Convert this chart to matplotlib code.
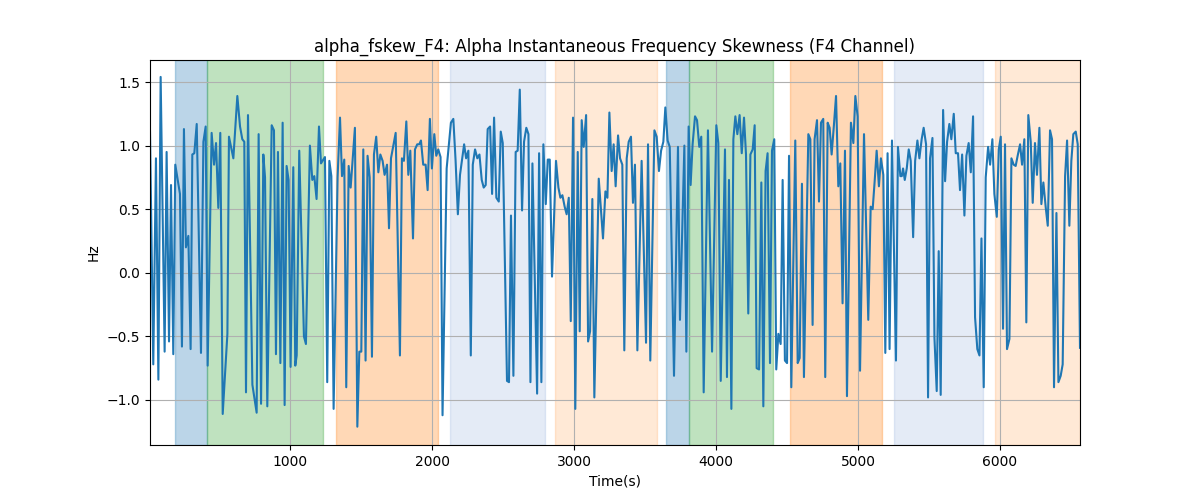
import matplotlib
matplotlib.use("Agg")
import matplotlib.pyplot as plt

# --- veri ---
zaman = [14, 37, 56, 73, 89, 117, 131, 148, 162, 178, 192, 225, 239, 253, 267, 284, 300, 312, 326, 343,
         373, 390, 406, 420, 448, 465, 479, 495, 509, 526, 559, 570, 601, 629, 648, 664, 678, 690, 704, 735,
         765, 779, 796, 812, 824, 840, 871, 887, 901, 915, 932, 948, 962, 976, 990, 1004, 1023, 1037, 1047, 1065,
         1098, 1112, 1140, 1157, 1171, 1187, 1204, 1218, 1246, 1262, 1277, 1291, 1307, 1335, 1352, 1366, 1382, 1396, 1413, 1427,
         1457, 1474, 1488, 1502, 1516, 1532, 1546, 1561, 1577, 1591, 1607, 1622, 1636, 1652, 1666, 1683, 1697, 1711, 1744, 1774,
         1788, 1802, 1819, 1833, 1847, 1866, 1880, 1896, 1910, 1922, 1938, 1955, 1969, 1985, 1999, 2016, 2030, 2044, 2060, 2074,
         2103, 2133, 2150, 2166, 2182, 2197, 2226, 2240, 2256, 2273, 2287, 2303, 2319, 2334, 2350, 2364, 2378, 2392, 2409, 2423,
         2437, 2453, 2470, 2484, 2498, 2528, 2542, 2556, 2573, 2589, 2603, 2618, 2634, 2648, 2664, 2679, 2693, 2707, 2740, 2754,
         2770, 2784, 2801, 2815, 2829, 2845, 2873, 2890, 2904, 2918, 2934, 2948, 2963, 2977, 2993, 3009, 3026, 3040, 3054, 3068,
         3085, 3099, 3113, 3129, 3143, 3174, 3204, 3221, 3235, 3249, 3265, 3279, 3293, 3310, 3324, 3340, 3354, 3371, 3385, 3401,
         3415, 3429, 3446, 3476, 3507, 3521, 3537, 3566, 3582, 3598, 3613, 3629, 3643, 3659, 3674, 3704, 3732, 3746, 3777, 3791,
         3807, 3821, 3835, 3852, 3866, 3882, 3896, 3913, 3943, 3972, 4002, 4016, 4033, 4063, 4077, 4091, 4108, 4122, 4136, 4150,
         4166, 4181, 4197, 4211, 4227, 4242, 4258, 4272, 4286, 4303, 4319, 4333, 4349, 4363, 4380, 4394, 4410, 4424, 4439, 4455,
         4469, 4485, 4500, 4514, 4530, 4558, 4575, 4589, 4605, 4619, 4650, 4664, 4680, 4694, 4711, 4725, 4739, 4755, 4769, 4786,
         4800, 4814, 4830, 4845, 4861, 4875, 4891, 4908, 4922, 4950, 4967, 4981, 4997, 5014, 5042, 5072, 5089, 5103, 5117, 5131,
         5147, 5161, 5178, 5192, 5208, 5222, 5239, 5267, 5281, 5298, 5308, 5317, 5329, 5343, 5357, 5371, 5388, 5402, 5418, 5432,
         5448, 5462, 5479, 5493, 5507, 5524, 5538, 5554, 5568, 5582, 5599, 5613, 5627, 5643, 5657, 5674, 5688, 5704, 5718, 5733,
         5749, 5763, 5779, 5794, 5810, 5824, 5840, 5855, 5869, 5885, 5899, 5916, 5930, 5946, 5960, 5977, 5991, 6005, 6021, 6035,
         6049, 6066, 6080, 6096, 6110, 6124, 6141, 6155, 6171, 6185, 6199, 6216, 6230, 6246, 6260, 6277, 6291, 6305, 6322, 6336,
         6352, 6366, 6380, 6397, 6411, 6427, 6441, 6458, 6472, 6488, 6502, 6516, 6533, 6547, 6563]

fskew = [1.11, -0.72, 0.90, -0.84, 1.54, -0.62, 0.95, -0.54, 0.69, -0.64, 0.85, 0.62, -0.58, 1.13, 0.20, 0.29, -0.60, 0.93, 0.94, 1.17,
         -0.63, 1.03, 1.15, -0.73, 1.10, 0.85, 1.02, 0.51, 1.10, -1.11, -0.48, 1.07, 0.90, 1.39, 1.15, 1.05, 1.03, -0.94, 1.24, -0.88,
         -1.10, 1.09, -1.03, 0.93, 0.75, -1.05, 1.16, 1.12, -0.64, 0.95, -0.71, 1.18, -1.04, 0.84, 0.73, -0.74, 0.83, -0.73, -0.65, 0.96,
         -0.50, -0.56, 1.00, 0.73, 0.76, 0.58, 1.15, 0.86, 0.91, -0.86, 0.88, 0.76, -1.07, 0.75, 1.22, 0.76, 0.89, -0.90, 0.84, 0.67,
         1.14, -1.21, -0.62, -0.62, 0.97, -0.69, 0.92, 0.75, -0.66, 0.93, 1.07, 0.79, 0.93, 0.88, 0.77, 0.85, 0.35, 0.90, 1.10, -0.65,
         0.90, 0.88, 1.19, 0.77, 0.96, 0.27, 0.97, 1.01, 1.01, 1.04, 0.85, 0.85, 0.65, 1.21, 0.82, 1.09, 0.92, 0.97, 0.91, -1.12,
         0.82, 1.18, 1.21, 0.88, 0.46, 0.77, 1.01, 0.90, 0.96, -0.65, 0.85, 0.97, 0.90, 0.93, 0.73, 0.67, 0.69, 1.13, 1.15, 0.62,
         1.22, 0.59, 0.56, 1.11, 1.02, -0.85, -0.86, 0.45, -0.81, 0.95, 0.96, 1.44, 0.49, 1.03, 1.14, 1.09, -0.86, 0.86, -0.95, 0.94,
         -0.86, 1.01, 0.54, 0.89, 0.89, -0.03, 0.88, 0.67, 0.59, 0.61, 0.52, 0.46, 0.59, -0.38, 1.22, -1.07, 0.95, -0.46, 1.20, 0.99,
         1.24, -0.54, -0.46, 0.58, -0.98, 0.74, 0.27, 0.64, 0.59, 1.26, 0.80, 1.01, 0.68, 1.08, 0.90, 0.85, -0.61, 0.90, 1.03, 1.07,
         0.55, 0.85, -0.61, 0.88, -0.55, 1.01, -0.69, 1.12, 1.07, 0.80, 0.96, 1.03, 1.30, 1.04, 0.99, -0.81, 0.99, -0.37, 1.00, -0.62,
         1.15, 0.69, 1.01, 1.23, 1.20, 0.99, 1.07, -0.94, 1.12, -0.62, 1.16, 1.02, -0.85, 0.97, -0.82, 0.73, -1.07, 1.05, 1.23, 1.09,
         1.24, 0.94, 1.22, 0.93, -0.32, 0.93, 0.97, 1.16, -0.75, -0.76, 0.71, -1.05, 0.80, 0.94, -0.71, 0.96, 1.05, -0.76, -0.48, -0.56,
         0.73, -0.69, -0.71, 0.92, -0.90, 1.04, -0.71, -0.67, 0.70, -0.82, 1.09, 1.05, -0.41, 1.05, 1.20, 0.56, 1.18, 1.21, -0.82, 1.18,
         1.14, 0.93, 1.16, 1.39, 0.68, 0.86, -0.24, 0.96, -0.97, 1.18, 1.02, 1.39, 1.23, -0.77, 1.09, -0.37, 0.52, 0.50, 0.72, 0.96,
         0.68, 0.90, 0.77, -0.63, 0.94, -0.60, 1.04, -0.69, 0.99, 0.76, 0.76, 0.82, 0.73, 0.82, 0.97, 0.88, 0.28, 0.88, 1.04, 0.90,
         1.05, 1.14, 1.01, -0.98, 0.90, 1.06, -0.51, -0.93, 0.17, -0.96, 1.28, 0.72, 1.03, 1.17, 1.05, 1.25, 0.94, 0.94, 0.65, 0.93,
         0.45, 0.92, 1.02, 0.79, 1.23, -0.35, -0.60, -0.65, 0.27, -0.90, 0.75, 0.99, 0.85, 1.05, 0.62, 0.44, 0.97, 1.07, -0.44, 1.01,
         -0.60, -0.52, 0.90, 0.85, 0.84, 0.92, 1.01, 0.85, 1.05, -0.39, 1.24, 1.03, 0.55, 1.02, 0.77, 1.14, 0.54, 0.71, 0.51, 0.37,
         1.12, 1.05, -0.90, 0.47, -0.86, -0.81, -0.72, 0.76, 1.04, 0.37, 0.88, 1.09, 1.11, 1.01, -0.59]

# bolgeler: baslangic, bitis, renk, alpha
bolge_bas = [190, 415, 1324, 2127, 2866, 3648, 3810, 4521, 5254, 5965]
bolge_bit = [415, 1232, 2042, 2796, 3585, 3810, 4401, 5169, 5880, 6563]
bolge_renk = ["tab:blue", "tab:green", "tab:orange", "#789bd2", "tab:orange",
              "tab:blue", "tab:green", "tab:orange", "#789bd2", "tab:orange"]
bolge_alpha = [0.3, 0.3, 0.3, 0.2, 0.17, 0.3, 0.3, 0.3, 0.2, 0.17]

fig, ax = plt.subplots(figsize=(12, 5), dpi=100)

for b, e, c, a in zip(bolge_bas, bolge_bit, bolge_renk, bolge_alpha):
    ax.axvspan(b, e, color=c, alpha=a)

ax.plot(zaman, fskew, color="tab:blue", linewidth=1.5)
ax.set_xlim(zaman[0], zaman[-1])
ax.set_ylim(-1.354, 1.673)
ax.set_title("alpha_fskew_F4: Alpha Instantaneous Frequency Skewness (F4 Channel)")
ax.set_xlabel("Time(s)")
ax.set_ylabel("Hz")
ax.grid(True)

plt.savefig("out.png", dpi=100)
